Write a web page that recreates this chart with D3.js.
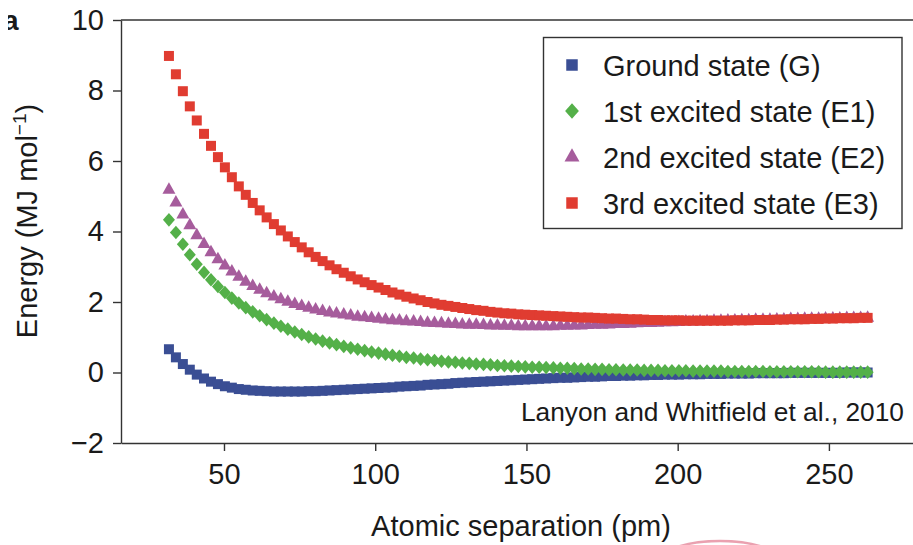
<!DOCTYPE html>
<html><head><meta charset="utf-8">
<script src="https://cdn.jsdelivr.net/npm/d3@7"></script>
<style>
body{margin:0;background:#fff}
svg{display:block}
text{font-family:"Liberation Sans",Arial,Helvetica,sans-serif;fill:#1a1a1a}
</style>
</head><body>
<svg id="chart" width="913" height="545"></svg>
<script>
// Atomic separation (pm)
const separation = [31.8,34.1,36.4,38.7,41.0,43.4,45.7,48.0,50.3,52.6,
54.9,57.2,59.5,61.8,64.1,66.5,68.8,71.1,73.4,75.7,
78.0,80.3,82.6,84.9,87.2,89.6,91.9,94.2,96.5,98.8,
101.1,103.4,105.7,108.0,110.3,112.7,115.0,117.3,119.6,121.9,
124.2,126.5,128.8,131.1,133.4,135.8,138.1,140.4,142.7,145.0,
147.3,149.6,151.9,154.2,156.5,158.9,161.2,163.5,165.8,168.1,
170.4,172.7,175.0,177.3,179.6,182.0,184.3,186.6,188.9,191.2,
193.5,195.8,198.1,200.4,202.7,205.1,207.4,209.7,212.0,214.3,
216.6,218.9,221.2,223.5,225.8,228.2,230.5,232.8,235.1,237.4,
239.7,242.0,244.3,246.6,248.9,251.3,253.6,255.9,258.2,260.5,262.8];

// Energies (MJ mol^-1)
const groundState = [0.66,0.43,0.24,0.08,-0.06,-0.17,-0.26,-0.33,-0.39,-0.43,
-0.47,-0.49,-0.51,-0.52,-0.53,-0.54,-0.54,-0.54,-0.54,-0.54,
-0.53,-0.53,-0.52,-0.51,-0.50,-0.49,-0.48,-0.47,-0.46,-0.45,
-0.44,-0.43,-0.42,-0.40,-0.39,-0.38,-0.37,-0.35,-0.34,-0.33,
-0.32,-0.30,-0.29,-0.28,-0.27,-0.26,-0.25,-0.24,-0.23,-0.22,
-0.21,-0.20,-0.19,-0.18,-0.17,-0.16,-0.15,-0.15,-0.14,-0.13,
-0.12,-0.12,-0.11,-0.10,-0.10,-0.09,-0.09,-0.08,-0.08,-0.07,
-0.07,-0.06,-0.06,-0.06,-0.05,-0.05,-0.05,-0.04,-0.04,-0.04,
-0.03,-0.03,-0.03,-0.03,-0.02,-0.02,-0.02,-0.02,-0.02,-0.01,
-0.01,-0.01,-0.01,-0.01,-0.01,-0.01,-0.01,0.00,0.00,0.00,0.00];

const excited1 = [4.33,3.97,3.64,3.34,3.07,2.84,2.63,2.44,2.27,2.11,
1.97,1.84,1.72,1.61,1.50,1.40,1.31,1.23,1.15,1.08,
1.01,0.95,0.89,0.84,0.79,0.74,0.70,0.66,0.62,0.58,
0.55,0.52,0.49,0.46,0.43,0.41,0.38,0.36,0.34,0.32,
0.30,0.29,0.27,0.26,0.24,0.23,0.22,0.20,0.19,0.18,
0.17,0.16,0.15,0.15,0.14,0.13,0.12,0.12,0.11,0.10,
0.10,0.09,0.09,0.08,0.08,0.07,0.07,0.07,0.06,0.06,
0.06,0.05,0.05,0.05,0.05,0.04,0.04,0.04,0.04,0.04,
0.03,0.03,0.03,0.03,0.03,0.03,0.02,0.02,0.02,0.02,
0.02,0.02,0.02,0.02,0.01,0.01,0.01,0.01,0.01,0.01,0.01];

const excited2 = [5.18,4.82,4.48,4.17,3.89,3.64,3.41,3.21,3.03,2.86,
2.71,2.57,2.45,2.34,2.24,2.15,2.07,2.00,1.94,1.88,
1.83,1.78,1.74,1.70,1.67,1.64,1.61,1.58,1.56,1.54,
1.52,1.50,1.48,1.47,1.45,1.44,1.43,1.41,1.40,1.39,
1.38,1.37,1.36,1.35,1.35,1.34,1.33,1.33,1.32,1.32,
1.31,1.31,1.31,1.31,1.31,1.31,1.32,1.32,1.33,1.33,
1.34,1.35,1.35,1.36,1.37,1.37,1.38,1.39,1.40,1.40,
1.41,1.42,1.42,1.43,1.44,1.44,1.45,1.45,1.46,1.46,
1.47,1.47,1.48,1.48,1.49,1.49,1.49,1.50,1.50,1.51,
1.51,1.52,1.52,1.52,1.53,1.53,1.53,1.54,1.54,1.54,1.55];

const excited3 = [8.98,8.46,7.98,7.55,7.15,6.77,6.43,6.11,5.82,5.54,
5.28,5.04,4.81,4.60,4.40,4.21,4.03,3.86,3.70,3.55,
3.41,3.28,3.16,3.04,2.93,2.83,2.73,2.64,2.56,2.48,
2.41,2.34,2.27,2.21,2.15,2.10,2.05,2.00,1.96,1.92,
1.89,1.86,1.83,1.80,1.77,1.75,1.72,1.70,1.68,1.67,
1.65,1.64,1.63,1.62,1.61,1.60,1.59,1.58,1.57,1.56,
1.56,1.55,1.54,1.53,1.53,1.52,1.51,1.51,1.50,1.49,
1.49,1.48,1.48,1.48,1.47,1.47,1.47,1.47,1.47,1.47,
1.47,1.48,1.48,1.48,1.49,1.49,1.49,1.50,1.50,1.51,
1.51,1.51,1.52,1.52,1.53,1.53,1.54,1.54,1.54,1.55,1.55];

const seriesNames = ["Ground state (G)","1st excited state (E1)","2nd excited state (E2)","3rd excited state (E3)"];
const seriesColors = ["#3a4e94","#54b049","#a65c9c","#e03c31"];
const seriesShapes = ["square","diamond","triangle","square"];
const xTicks = [50,100,150,200,250];
const yTicks = [-2,0,2,4,6,8,10];
const xTitle = "Atomic separation (pm)";
const yTitleMain = "Energy (MJ mol";
const yTitleSup = "\u22121";
const creditText = "Lanyon and Whitfield et al., 2010";
const panelLabel = "a";

const svg = d3.select("#chart");
const plot = {left:121, right:913, top:20, bottom:443};

const x = d3.scaleLinear().domain([15.95, 277.8]).range([plot.left, plot.right]);
const y = d3.scaleLinear().domain([-2, 10]).range([plot.bottom, plot.top]);

const axisColor = "#333";

function shapePath(shape, big){
  const k = big ? 1.15 : 1;
  if(shape === "square"){ const s = 5*k; return `M${-s},${-s}H${s}V${s}H${-s}Z`; }
  if(shape === "diamond"){ const w = 6*k, h = 6.8*k; return `M0,${-h}L${w},0L0,${h}L${-w},0Z`; }
  if(shape === "triangle"){ const w = 6.5*k, h = 11.5*k; return `M0,${-h*2/3}L${w},${h/3}L${-w},${h/3}Z`; }
}

// panel label (cropped at the left edge)
svg.append("defs").append("clipPath").attr("id","clipA")
  .append("rect").attr("x",8).attr("y",0).attr("width",40).attr("height",60);
svg.append("text").attr("clip-path","url(#clipA)")
  .attr("x",3).attr("y",30).attr("font-size",28).attr("font-weight","bold").text(panelLabel);

// top frame line
svg.append("line").attr("x1",plot.left).attr("x2",plot.right)
  .attr("y1",y(10)).attr("y2",y(10))
  .attr("stroke",axisColor).attr("stroke-width",1.4);

// axes
const fmt = d => d < 0 ? "\u2212" + Math.abs(d) : String(d);
const gy = svg.append("g").attr("transform",`translate(${plot.left},0)`)
  .call(d3.axisLeft(y).tickValues(yTicks).tickFormat(fmt).tickSize(8).tickSizeOuter(0).tickPadding(9));
const gx = svg.append("g").attr("transform",`translate(0,${plot.bottom})`)
  .call(d3.axisBottom(x).tickValues(xTicks).tickSize(8).tickSizeOuter(0).tickPadding(12));
[gx,gy].forEach(g=>{
  g.select(".domain").attr("stroke",axisColor).attr("stroke-width",1.4);
  g.selectAll(".tick line").attr("stroke",axisColor).attr("stroke-width",1.4);
  g.selectAll(".tick text").attr("font-size",29).attr("fill","#1a1a1a")
   .attr("font-family",'"Liberation Sans",Arial,sans-serif');
});
gx.selectAll(".tick text").attr("dy","0.71em");

// axis titles
svg.append("text").attr("x",521).attr("y",536).attr("text-anchor","middle")
  .attr("font-size",29).text(xTitle);
const yt = svg.append("text").attr("transform","translate(37,221) rotate(-90)")
  .attr("text-anchor","middle").attr("font-size",29);
yt.append("tspan").text(yTitleMain);
yt.append("tspan").attr("font-size",19).attr("dy",-11).text(yTitleSup);
yt.append("tspan").attr("dy",11).text(")");

// series
const seriesData = [groundState, excited1, excited2, excited3];
seriesData.forEach((vals,si)=>{
  svg.append("g").selectAll("path").data(vals.map((v,i)=>({x:separation[i], y:v})))
    .join("path")
    .attr("transform",d=>`translate(${x(d.x)},${y(d.y)})`)
    .attr("d",shapePath(seriesShapes[si], false))
    .attr("fill",seriesColors[si]);
});

// credit
svg.append("text").attr("x",904).attr("y",421).attr("text-anchor","end")
  .attr("font-size",26.3).text(creditText);

// legend
const lg = svg.append("g");
lg.append("rect").attr("x",543.5).attr("y",37.5).attr("width",358.5).attr("height",191)
  .attr("fill","#fff").attr("stroke",axisColor).attr("stroke-width",1.4);
const rowY = [65,111,157,203];
seriesNames.forEach((n,i)=>{
  lg.append("path").attr("transform",`translate(572,${rowY[i]})`)
    .attr("d",shapePath(seriesShapes[i], true)).attr("fill",seriesColors[i]);
  lg.append("text").attr("x",603).attr("y",rowY[i]+11).attr("font-size",29).text(n);
});

// faint pink arc at bottom edge (scan artifact)
svg.append("ellipse").attr("cx",720).attr("cy",561).attr("rx",60).attr("ry",20)
  .attr("fill","none").attr("stroke","#e58a9c").attr("stroke-width",2.5).attr("opacity",0.8);
</script>
</body></html>
